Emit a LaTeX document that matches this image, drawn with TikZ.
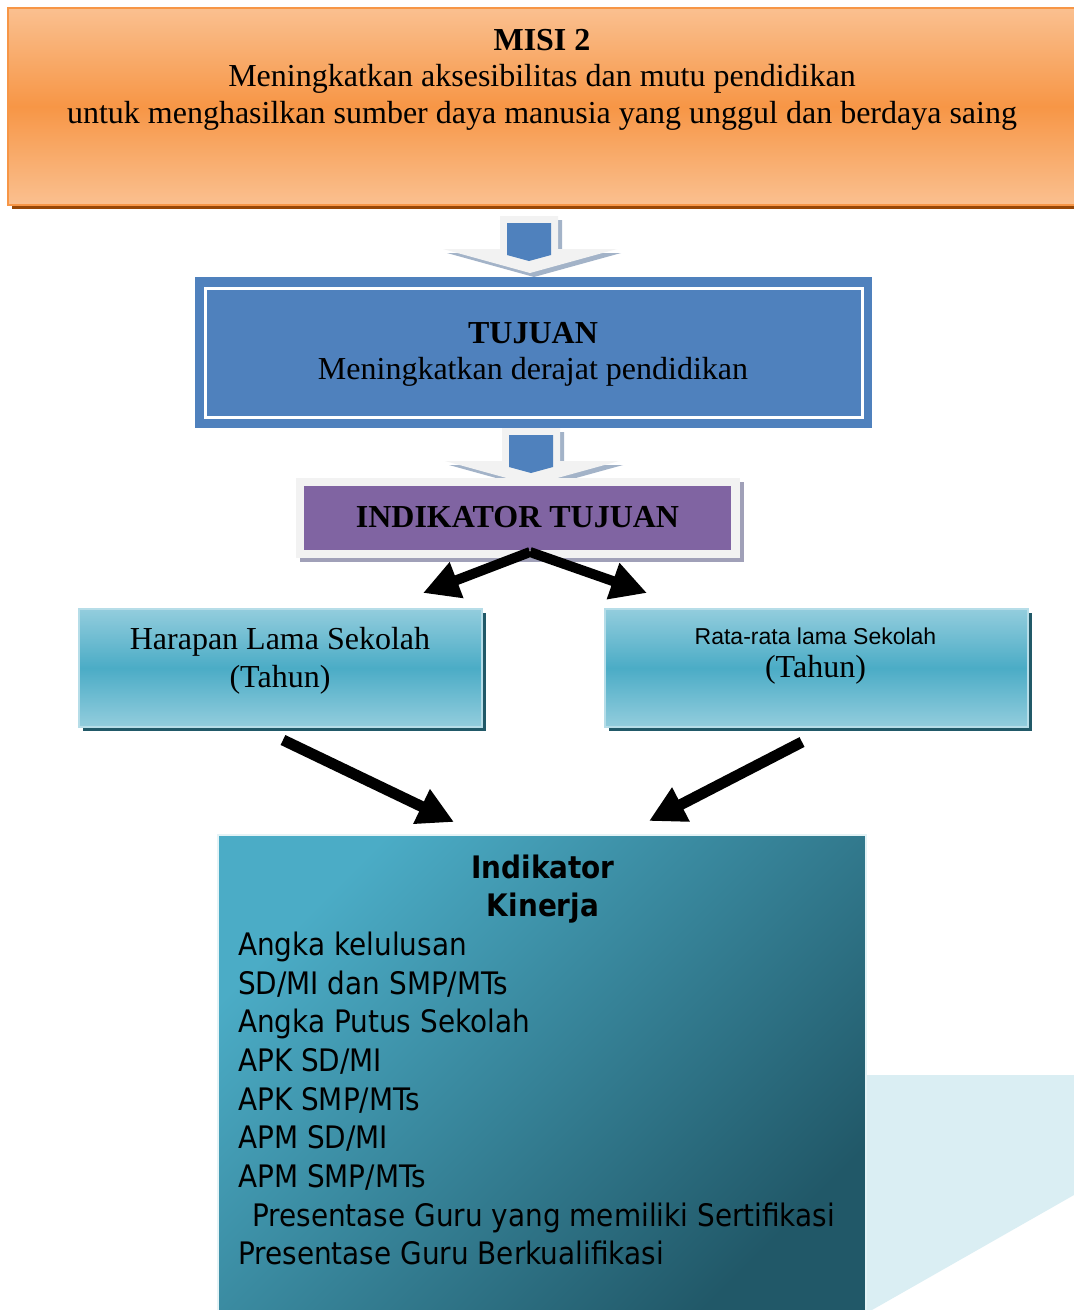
\documentclass[tikz,border=0pt]{standalone}
\usepackage{fontspec}
\setmainfont{Liberation Serif}
\newfontfamily\tahfont[FakeStretch=0.9]{DejaVu Sans}
\newfontfamily\arialfont{Liberation Sans}
\usetikzlibrary{arrows.meta,shadows}
\definecolor{orL}{HTML}{FAC090}
\definecolor{orM}{HTML}{F79646}
\definecolor{orS}{HTML}{984807}
\definecolor{blu}{HTML}{4F81BD}
\definecolor{arrOut}{HTML}{F2F2F2}
\definecolor{arrSh}{HTML}{A3B3C8}
\definecolor{purp}{HTML}{8064A2}
\definecolor{frmSh}{HTML}{A0A0B8}
\definecolor{aqua}{HTML}{4BACC6}
\definecolor{aquaL}{HTML}{93CDDD}
\definecolor{aquaB}{HTML}{B6DDE8}
\definecolor{aquaS}{HTML}{215968}
\definecolor{tealM}{HTML}{3E93AA}
\definecolor{tealD}{HTML}{215868}
\definecolor{pale}{HTML}{DAEEF3}
\tikzset{
  box/.style={rectangle, inner sep=0pt, outer sep=0pt, anchor=north west},
  serifT/.style={font=\fontsize{32}{37}\selectfont, inner sep=0pt, anchor=base},
  sansK/.style={font=\tahfont\fontsize{31}{38.7}\selectfont, inner sep=0pt, anchor=base west},
  fatarrow/.style={line width=10pt, black, -{Triangle[length=36pt,width=36pt]}},
  blockarrow/.pic={
    \fill[arrSh] (504,220) -- (562,220) -- (562,253) -- (621,253) -- (534,277) -- (447,253) -- (504,253) -- cycle;
    \fill[arrOut] (500,216) -- (558,216) -- (558,249) -- (617,249) -- (530,273) -- (443,249) -- (500,249) -- cycle;
    \fill[blu] (507,223) -- (551,223) -- (551,255) -- (529,261) -- (507,255) -- cycle;
  }
}
\begin{document}
\begin{tikzpicture}[x=1pt,y=-1pt]
\clip (0,0) rectangle (1074,1310);
\fill[white] (0,0) rectangle (1074,1310);

% pale background shape
\fill[pale] (860,1075) -- (1074,1075) -- (1074,1195) -- (872,1310) -- (860,1310) -- cycle;

% MISI box
\node[box, minimum width=1080pt, minimum height=197pt, draw=orM, line width=1.5pt,
  top color=orL, bottom color=orL, middle color=orM,
  general shadow={fill=orS, shadow xshift=4pt, shadow yshift=-4pt}] (misi) at (8,8) {};
\node[serifT, font=\bfseries\fontsize{32}{37}\selectfont] (misiA) at (542,50) {MISI 2};
\node[serifT] (misiB) at (542,86.5) {Meningkatkan aksesibilitas dan mutu pendidikan};
\node[serifT] (misiC) at (542,123) {untuk menghasilkan sumber daya manusia yang unggul dan berdaya saing};

% block arrows
\pic (ba1) at (0,0) {blockarrow};
\pic (ba2) at (2,212) {blockarrow};

% TUJUAN box
\node[box, fill=blu, minimum width=677pt, minimum height=151pt] (tuj) at (195,277) {};
\draw[white, line width=3pt] (205,288) rectangle (862,417);
\node[serifT, font=\bfseries\fontsize{32}{37}\selectfont] (tujA) at (533,343) {TUJUAN};
\node[serifT] (tujB) at (533,379) {Meningkatkan derajat pendidikan};

% INDIKATOR TUJUAN box
\node[box, fill=arrOut, minimum width=444pt, minimum height=80pt,
  general shadow={fill=frmSh, shadow xshift=4pt, shadow yshift=-4pt}] (itf) at (296,478) {};
\node[box, fill=purp, minimum width=427pt, minimum height=64pt] (it) at (304,486) {};
\node[serifT, font=\bfseries\fontsize{32}{37}\selectfont] (itA) at (517.5,527) {INDIKATOR TUJUAN};

% Harapan / Rata-rata boxes
\node[box, draw=aquaB, line width=2pt, top color=aquaL, bottom color=aquaL, middle color=aqua,
  minimum width=403pt, minimum height=118pt,
  general shadow={fill=aquaS, shadow xshift=4pt, shadow yshift=-4pt}] (hls) at (79,609) {};
\node[box, draw=aquaB, line width=2pt, top color=aquaL, bottom color=aquaL, middle color=aqua,
  minimum width=423pt, minimum height=118pt,
  general shadow={fill=aquaS, shadow xshift=4pt, shadow yshift=-4pt}] (rls) at (605,609) {};
\node[serifT] (hlsA) at (280,649) {Harapan Lama Sekolah};
\node[serifT] (hlsB) at (280,687) {(Tahun)};
\node[serifT, font=\arialfont\fontsize{23}{28}\selectfont] (rlsA) at (815.5,644) {Rata-rata lama Sekolah};
\node[serifT] (rlsB) at (815.5,677) {(Tahun)};

% Indikator Kinerja box
\node[box, draw=white!85!aqua, line width=1.5pt, top color=aqua, middle color=tealM, bottom color=tealD,
  shading angle=45, minimum width=648pt, minimum height=480pt] (ik) at (218,835) {};
\node[serifT, font=\tahfont\bfseries\fontsize{31}{38.7}\selectfont] (ikA) at (543,878) {Indikator};
\node[serifT, font=\tahfont\bfseries\fontsize{31}{38.7}\selectfont] (ikB) at (543,916) {Kinerja};
\node[sansK] (k1) at (238,955) {Angka kelulusan};
\node[sansK] (k2) at (238,994) {SD/MI dan SMP/MTs};
\node[sansK] (k3) at (238,1032) {Angka Putus Sekolah};
\node[sansK] (k4) at (238,1071) {APK SD/MI};
\node[sansK] (k5) at (238,1110) {APK SMP/MTs};
\node[sansK] (k6) at (238,1148) {APM SD/MI};
\node[sansK] (k7) at (238,1187) {APM SMP/MTs};
\node[sansK] (k8) at (252,1226) {Presentase Guru yang memiliki Sertifikasi};
\node[sansK] (k9) at (238,1264) {Presentase Guru Berkualifikasi};

% connectors
\coordinate (itOut) at (530,552);
\coordinate (hlsIn) at (423,593);
\coordinate (rlsIn) at (647,593);
\coordinate (hlsOut) at (283,740);
\coordinate (rlsOut) at (802,742);
\coordinate (ikInL) at (454,822);
\coordinate (ikInR) at (649,821);
\draw[fatarrow] (itOut) -- (hlsIn);
\draw[fatarrow] (itOut) -- (rlsIn);
\draw[fatarrow, line width=11pt] (hlsOut) -- (ikInL);
\draw[fatarrow, line width=11pt] (rlsOut) -- (ikInR);
\end{tikzpicture}
\end{document}
